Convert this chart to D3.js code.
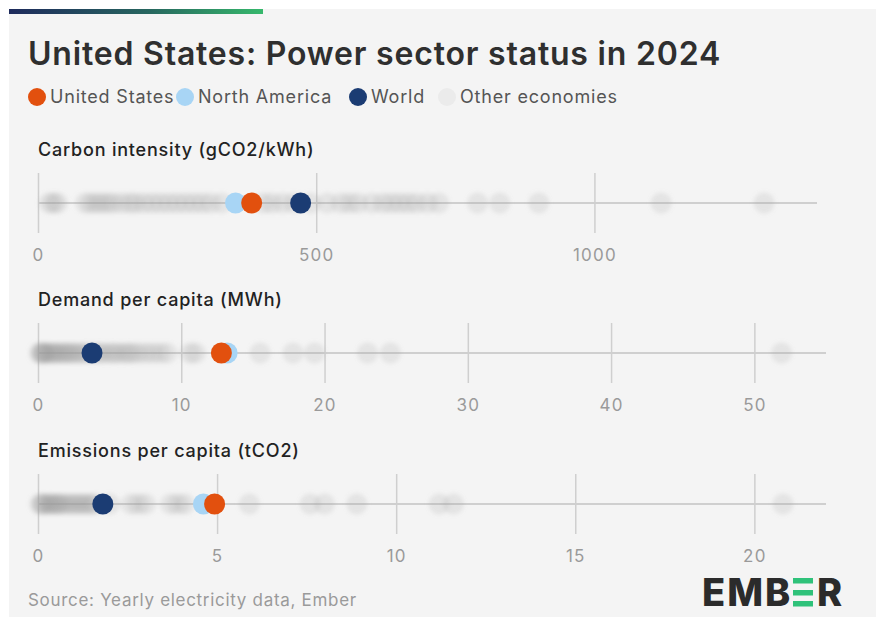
<!DOCTYPE html>
<html>
<head>
<meta charset="utf-8">
<script src="https://cdn.jsdelivr.net/npm/d3@7"></script>
<style>
  body { margin: 0; background: #fff; font-family: Inter, "Noto Sans", sans-serif; }
  svg { display: block; }
  .tick text { fill: #9a9a9a; font-family: Inter, sans-serif; }
  .tick line { stroke: #cfcfcf; stroke-width: 1.5; }
</style>
</head>
<body>
<svg width="885" height="626"></svg>
<script>
// ---- data ----
const carbonOthers = [20, 28, 35, 85, 95, 105, 115, 125, 135, 150, 165, 175, 190, 205, 220, 235, 250,
  265, 280, 295, 310, 330, 405, 420, 440, 460, 490, 520, 545, 560, 575, 600, 620, 635, 650, 665, 680,
  700, 720, 790, 830, 900, 1120, 1305];
const demandOthers = [0.1, 0.2, 0.3, 0.4, 0.5, 0.6, 0.8, 1.0, 1.1, 1.3, 1.5, 1.7, 1.9, 2.1, 2.3, 2.5,
  2.8, 3.0, 3.3, 3.6, 4.0, 4.3, 4.6, 5.0, 5.3, 5.6, 6.0, 6.3, 6.6, 7.0, 7.5, 8.0, 8.5, 9.0, 10.6, 11.0,
  15.5, 17.8, 19.3, 23.0, 24.6, 51.9];
const emissionsOthers = [0.05, 0.1, 0.15, 0.2, 0.3, 0.35, 0.4, 0.5, 0.55, 0.6, 0.7, 0.8, 0.9, 1.0, 1.1,
  1.2, 1.3, 1.4, 1.5, 1.6, 2.0, 2.6, 2.8, 3.0, 3.7, 3.9, 4.1, 5.9, 7.6, 8.0, 8.9, 11.2, 11.6, 20.8];

const metricNames = ['Carbon intensity (gCO2/kWh)', 'Demand per capita (MWh)', 'Emissions per capita (tCO2)'];
const metricMax = [1400, 55, 22];
const metricTicks = [[0, 500, 1000], [0, 10, 20, 30, 40, 50], [0, 5, 10, 15, 20]];
const northAmerica = [355, 13.2, 4.62];
const unitedStates = [384, 12.8, 4.93];
const world = [472, 3.77, 1.81];

const legendNames = ['United States', 'North America', 'World', 'Other economies'];
const legendColors = ['#e2500e', '#a8d5f5', '#1b3c73', '#ebebeb'];

// ---- layout ----
const svg = d3.select('svg');
const rowY = [203, 353, 504];
const xRange = [[38, 817], [38, 826], [38, 826]];

const defs = svg.append('defs');
const grad = defs.append('linearGradient').attr('id', 'topbar');
grad.append('stop').attr('offset', '0%').attr('stop-color', '#1e2a5c');
grad.append('stop').attr('offset', '55%').attr('stop-color', '#27665f');
grad.append('stop').attr('offset', '100%').attr('stop-color', '#36b86c');
defs.append('filter').attr('id', 'soft')
  .attr('x', '-50%').attr('y', '-50%').attr('width', '200%').attr('height', '200%')
  .append('feGaussianBlur').attr('stdDeviation', 2.3);

svg.append('rect').attr('x', 9).attr('y', 9).attr('width', 867).attr('height', 608).attr('fill', '#f4f4f4');
svg.append('rect').attr('x', 9).attr('y', 9).attr('width', 254).attr('height', 5).attr('fill', 'url(#topbar)');

svg.append('text')
  .attr('x', 28).attr('y', 65)
  .attr('font-size', 32).attr('font-weight', 600).attr('letter-spacing', 0.8).attr('fill', '#2f2f2f')
  .text('United States: Power sector status in 2024');

// legend
const legendX = [37, 185, 358, 447];
const legend = svg.append('g').selectAll('g').data(legendNames).join('g')
  .attr('transform', (d, i) => `translate(${legendX[i]},97)`);
legend.append('circle').attr('r', 9).attr('fill', (d, i) => legendColors[i]);
legend.append('text')
  .attr('x', 13).attr('dy', '0.35em')
  .attr('font-size', 18).attr('letter-spacing', 0.8).attr('fill', '#555')
  .text(d => d);

const others = [carbonOthers, demandOthers, emissionsOthers];

metricNames.forEach((name, i) => {
  const cy = rowY[i];
  const x = d3.scaleLinear().domain([0, metricMax[i]]).range(xRange[i]);
  const g = svg.append('g');

  g.append('text')
    .attr('x', 38).attr('y', cy - 47)
    .attr('font-size', 18).attr('font-weight', 500).attr('letter-spacing', 0.8).attr('fill', '#222')
    .text(name);

  const axis = d3.axisBottom(x)
    .tickValues(metricTicks[i])
    .tickSize(60)
    .tickPadding(0)
    .tickFormat(d3.format('d'));

  const ag = g.append('g')
    .attr('transform', `translate(0,${cy - 30})`)
    .call(axis);
  ag.select('.domain').remove();
  ag.selectAll('.tick text')
    .attr('y', 88).attr('dy', 0)
    .attr('font-size', 17).attr('letter-spacing', 1.2);

  g.append('line')
    .attr('x1', x(0)).attr('x2', x(metricMax[i]))
    .attr('y1', cy).attr('y2', cy)
    .attr('stroke', '#cfcfcf').attr('stroke-width', 2);

  g.append('g').attr('filter', 'url(#soft)')
    .selectAll('circle').data(others[i]).join('circle')
    .attr('cx', d => x(d)).attr('cy', cy).attr('r', 10.5)
    .attr('fill', '#9a9a9a').attr('fill-opacity', 0.18);

  const highlights = [
    { v: northAmerica[i], c: legendColors[1] },
    { v: unitedStates[i], c: legendColors[0] },
    { v: world[i], c: legendColors[2] }
  ];
  g.append('g').selectAll('circle').data(highlights).join('circle')
    .attr('cx', d => x(d.v)).attr('cy', cy).attr('r', 10.5)
    .attr('fill', d => d.c);
});

svg.append('text')
  .attr('x', 28).attr('y', 606)
  .attr('font-size', 17).attr('letter-spacing', 0.7).attr('fill', '#9a9a9a')
  .text('Source: Yearly electricity data, Ember');

// logo
const logo = svg.append('g').attr('font-size', 38).attr('font-weight', 800).attr('fill', '#2b2b2b');
logo.append('text').attr('x', 702).attr('y', 606).attr('letter-spacing', 2).text('EMB');
[578, 590, 601].forEach(y => {
  logo.append('rect').attr('x', 793).attr('y', y).attr('width', 20).attr('height', 5.5).attr('fill', '#2fc27a');
});
logo.append('text').attr('x', 817).attr('y', 606).text('R');
</script>
</body>
</html>
